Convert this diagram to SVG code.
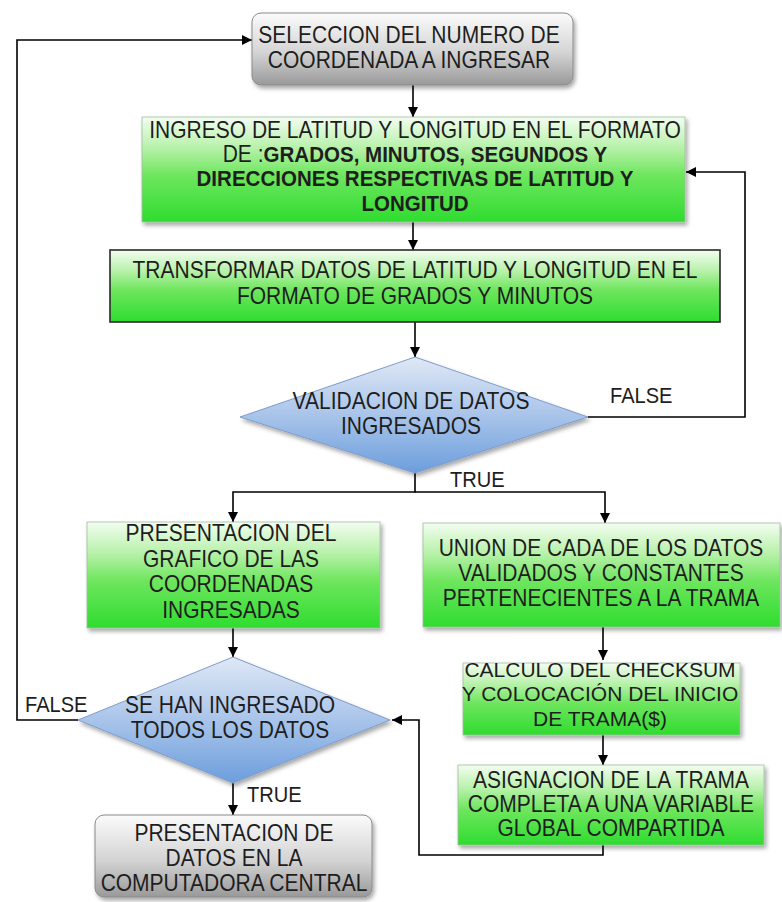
<svg xmlns="http://www.w3.org/2000/svg" width="782" height="902" viewBox="0 0 782 902">
<defs>
<linearGradient id="gGreen" x1="0" y1="0" x2="0" y2="1">
<stop offset="0" stop-color="#f3fdf1"/>
<stop offset="0.3" stop-color="#b6f1a8"/>
<stop offset="0.55" stop-color="#6fe65f"/>
<stop offset="1" stop-color="#2fdc2f"/>
</linearGradient>
<linearGradient id="gGray" x1="0" y1="0" x2="0" y2="1">
<stop offset="0" stop-color="#fbfbfb"/>
<stop offset="0.55" stop-color="#d4d4d4"/>
<stop offset="1" stop-color="#999999"/>
</linearGradient>
<linearGradient id="gBlue" x1="0" y1="0" x2="0" y2="1">
<stop offset="0" stop-color="#dfe8f5"/>
<stop offset="0.5" stop-color="#a9c4ea"/>
<stop offset="1" stop-color="#6c9edc"/>
</linearGradient>
<filter id="sh" x="-10%" y="-10%" width="125%" height="135%">
<feDropShadow dx="2" dy="3" stdDeviation="2" flood-color="#000" flood-opacity="0.35"/>
</filter>
<marker id="ah" viewBox="0 0 10 10" refX="10" refY="5" markerWidth="10" markerHeight="10" markerUnits="userSpaceOnUse" orient="auto">
<path d="M0,0 L10,5 L0,10 z" fill="#000"/>
</marker>
</defs>
<style>
text{font-family:"Liberation Sans",Arial,sans-serif;font-size:23px;fill:#1e1e1e;text-anchor:middle}
.b{font-weight:bold;font-size:22.5px}
.lbl{text-anchor:start;font-size:22px}
.sm{font-size:21px}
.green{fill:url(#gGreen);stroke:#9fbf9f;stroke-width:0.8;filter:url(#sh)}
.gray{fill:url(#gGray);stroke:#8a8a8a;stroke-width:1;filter:url(#sh)}
.dia{fill:url(#gBlue);stroke:#7f9ccb;stroke-width:1;filter:url(#sh)}
.c{fill:none;stroke:#000;stroke-width:1.6;marker-end:url(#ah)}
</style>
<rect width="782" height="902" fill="#fff"/>

<g id="connectors">
<path class="c" d="M413,85 V117"/>
<path class="c" d="M413,222 V250"/>
<path class="c" d="M415,322 V357"/>
<path class="c" d="M588,417 H745 V172 H686"/>
<path class="c" d="M415,473 V492 H233 V522"/>
<path class="c" d="M415,492 H605 V523"/>
<path class="c" d="M233,628 V657"/>
<path class="c" d="M78,720 H17 V40 H252"/>
<path class="c" d="M233,783 V815"/>
<path class="c" d="M603,627 V660"/>
<path class="c" d="M603,735 V765"/>
<path class="c" d="M603,845 V855 H419 V720 H392"/>
<text class="lbl" transform="matrix(0.913 0 0 1 53.07 0)" x="610" y="403">FALSE</text>
<text class="lbl" transform="matrix(0.913 0 0 1 39.15 0)" x="450" y="487">TRUE</text>
<text class="lbl" transform="matrix(0.913 0 0 1 2.175 0)" x="25" y="712">FALSE</text>
<text class="lbl" transform="matrix(0.913 0 0 1 21.489 0)" x="247" y="802">TRUE</text>
</g>

<g id="n1">
<rect class="gray" x="252" y="13" width="321" height="72" rx="9"/>
<g transform="matrix(0.913 0 0 1 35.58 0)">
<text x="409" y="43">SELECCION DEL NUMERO DE</text>
<text x="409" y="68">COORDENADA A INGRESAR</text>
</g>
</g>

<g id="n2">
<rect class="green" x="142" y="117" width="543" height="105"/>
<g transform="matrix(0.913 0 0 1 36.105 0)">
<text x="415" y="138">INGRESO DE LATITUD Y LONGITUD EN EL FORMATO</text>
<text x="415" y="162">DE :<tspan class="b">GRADOS, MINUTOS, SEGUNDOS Y</tspan></text>
<text class="b" x="415" y="186">DIRECCIONES RESPECTIVAS DE LATITUD Y</text>
<text class="b" x="415" y="211">LONGITUD</text>
</g>
</g>

<g id="n3">
<rect x="110" y="250" width="610" height="72" fill="url(#gGreen)" stroke="#2a2a2a" stroke-width="1.6"/>
<g transform="matrix(0.913 0 0 1 36.105 0)">
<text x="415" y="278">TRANSFORMAR DATOS DE LATITUD Y LONGITUD EN EL</text>
<text x="415" y="304">FORMATO DE GRADOS Y MINUTOS</text>
</g>
</g>

<g id="n4">
<polygon class="dia" points="415,357 588,417 415,473 240,417"/>
<g transform="matrix(0.913 0 0 1 35.757 0)">
<text x="411" y="409">VALIDACION DE DATOS</text>
<text x="411" y="434">INGRESADOS</text>
</g>
</g>

<g id="n5">
<rect class="green" x="87" y="522" width="293" height="106"/>
<g transform="matrix(0.913 0 0 1 20.097 0)">
<text x="231" y="541">PRESENTACION DEL</text>
<text x="231" y="567">GRAFICO DE LAS</text>
<text x="231" y="592">COORDENADAS</text>
<text x="231" y="618">INGRESADAS</text>
</g>
</g>

<g id="n6">
<rect class="green" x="423" y="523" width="357" height="104"/>
<g transform="matrix(0.913 0 0 1 52.287 0)">
<text x="601" y="556">UNION DE CADA DE LOS DATOS</text>
<text x="601" y="581">VALIDADOS Y CONSTANTES</text>
<text x="601" y="606">PERTENECIENTES A LA TRAMA</text>
</g>
</g>

<g id="n7">
<polygon class="dia" points="233,657 390,720 233,783 78,720"/>
<g transform="matrix(0.913 0 0 1 20.01 0)">
<text x="230" y="713">SE HAN INGRESADO</text>
<text x="230" y="738">TODOS LOS DATOS</text>
</g>
</g>

<g id="n8">
<rect class="green" x="463" y="663" width="277" height="72"/>
<text class="sm" x="600" y="677">CALCULO DEL CHECKSUM</text>
<text class="sm" x="600" y="701">Y COLOCACIÓN DEL INICIO</text>
<text class="sm" x="600" y="726">DE TRAMA($)</text>
</g>

<g id="n9">
<rect class="green" x="458" y="765" width="306" height="80"/>
<g transform="matrix(0.913 0 0 1 53.157 0)">
<text x="611" y="788">ASIGNACION DE LA TRAMA</text>
<text x="611" y="812">COMPLETA A UNA VARIABLE</text>
<text x="611" y="836">GLOBAL COMPARTIDA</text>
</g>
</g>

<g id="n10">
<rect class="gray" x="95" y="815" width="277" height="82" rx="9"/>
<g transform="matrix(0.913 0 0 1 20.358 0)">
<text x="234" y="841">PRESENTACION DE</text>
<text x="234" y="866">DATOS EN LA</text>
<text x="234" y="891">COMPUTADORA CENTRAL</text>
</g>
</g>
</svg>
